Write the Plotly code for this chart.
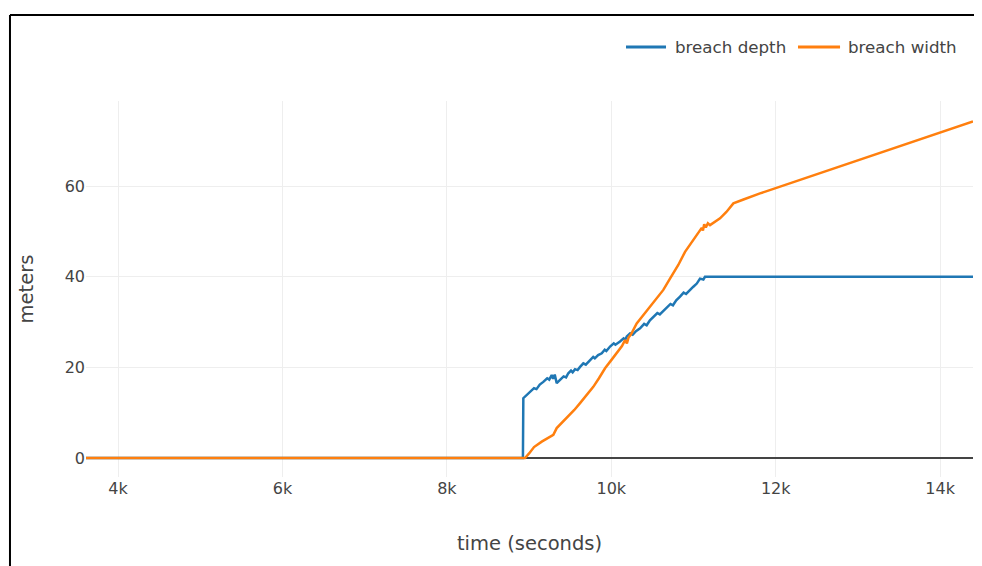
import plotly.graph_objects as go

# breach depth (meters) vs time (seconds)
depth_t = [3600, 8925, 8930, 9011, 9060, 9090, 9130, 9173, 9220, 9245, 9275, 9292, 9312, 9336,
           9380, 9420, 9450, 9477, 9510, 9530, 9559, 9590, 9620, 9660, 9690, 9741, 9780, 9800,
           9840, 9884, 9920, 9940, 9985, 10030, 10050, 10106, 10150, 10170, 10188, 10230, 10260,
           10300, 10350, 10400, 10430, 10470, 10512, 10560, 10590, 10630, 10674, 10720, 10750,
           10790, 10836, 10880, 10910, 10960, 10998, 11040, 11079, 11120, 11140, 11180, 11300, 14400]
depth_v = [0.0, 0.0, 13.2, 14.6, 15.4, 15.2, 16.2, 16.8, 17.6, 17.3, 18.3, 17.5, 18.4, 16.5,
           17.4, 18.0, 17.8, 18.7, 19.3, 18.9, 19.6, 19.4, 20.1, 20.9, 20.6, 21.6, 22.3, 22.0,
           22.7, 23.1, 23.9, 23.6, 24.6, 25.3, 25.0, 25.7, 26.4, 26.1, 26.8, 27.5, 27.2,
           28.0, 28.6, 29.6, 29.3, 30.4, 31.2, 32.0, 31.7, 32.4, 33.0, 34.0, 33.7, 34.8,
           35.6, 36.5, 36.2, 37.2, 37.8, 38.5, 39.6, 39.4, 40.0, 40.0, 40.0, 40.0]

# breach width (meters) vs time (seconds)
width_t = [3600, 8951, 9000, 9060, 9154, 9230, 9295, 9336, 9400, 9477, 9550, 9620, 9700, 9781,
           9850, 9924, 10000, 10066, 10130, 10167, 10190, 10210, 10240, 10309, 10390, 10471, 10550,
           10633, 10714, 10815, 10897, 10998, 11060, 11100, 11115, 11130, 11150, 11175, 11201,
           11260, 11323, 11400, 11485, 11600, 11809, 14400]
width_v = [0.0, 0.0, 1.0, 2.4, 3.6, 4.4, 5.1, 6.6, 7.8, 9.1, 10.6, 12.1, 13.9, 15.7,
           17.6, 19.8, 21.6, 23.1, 24.7, 26.0, 25.3, 26.6, 27.3, 29.7, 31.6, 33.4, 35.3,
           37.1, 39.6, 42.6, 45.5, 48.1, 49.6, 50.8, 50.2, 51.6, 50.9, 51.8, 51.4,
           52.1, 52.9, 54.3, 56.2, 57.0, 58.4, 74.3]

series_names = ["breach depth", "breach width"]
series_colors = ["#1f77b4", "#ff7f0e"]

x_range = [3610, 14400]
y_range = [-4.2, 78.8]
y_ticks = [0, 20, 40, 60]

font_family = "Verdana, DejaVu Sans, sans-serif"

fig = go.Figure()
fig.add_trace(go.Scatter(x=depth_t, y=depth_v, mode="lines", name=series_names[0],
                         line=dict(color=series_colors[0], width=2.5)))
fig.add_trace(go.Scatter(x=width_t, y=width_v, mode="lines", name=series_names[1],
                         line=dict(color=series_colors[1], width=2.5)))

frame = dict(color="black", width=2)
shapes = [
    dict(type="line", xref="paper", yref="paper", x0=-0.0857, x1=1.05, y0=1.2287, y1=1.2287,
         line=frame),
    dict(type="line", xref="paper", yref="paper", x0=-0.0857, x1=-0.0857, y0=-0.3, y1=1.2287,
         line=frame),
]
annotations = []
# legend (line swatch + label) at the top right
legend_y = 1.1436
legend_sw = [(0.6088, 0.6539, 0.6615), (0.8027, 0.8501, 0.8565)]
for (x0, x1, xt), name, col in zip(legend_sw, series_names, series_colors):
    shapes.append(dict(type="line", xref="paper", yref="paper", x0=x0, x1=x1,
                       y0=legend_y, y1=legend_y, line=dict(color=col, width=3)))
    annotations.append(dict(xref="paper", yref="paper", x=xt, y=legend_y, text=name,
                            showarrow=False, xanchor="left", yanchor="middle",
                            font=dict(size=16.7, color="#444")))

fig.update_layout(
    width=982, height=558,
    margin=dict(l=78, r=17, t=93, b=89),
    paper_bgcolor="white", plot_bgcolor="white",
    font=dict(family=font_family, color="#444", size=16),
    showlegend=False,
    xaxis=dict(range=x_range, dtick=2000, tick0=0, showgrid=True, gridcolor="#eee",
               zeroline=False, showline=False, ticks="",
               tickfont=dict(size=16),
               title=dict(text="time (seconds)", font=dict(size=19.5), standoff=39)),
    yaxis=dict(range=y_range, tickvals=y_ticks, showgrid=True, gridcolor="#eee",
               zeroline=True, zerolinecolor="#444", zerolinewidth=2, showline=False,
               tickfont=dict(size=16),
               title=dict(text="meters", font=dict(size=19.5), standoff=25)),
    shapes=shapes,
    annotations=annotations,
)

fig.write_html(
    "out.html",
    post_script="document.documentElement.style.overflow='hidden';"
                "document.body.style.overflow='hidden';",
)
